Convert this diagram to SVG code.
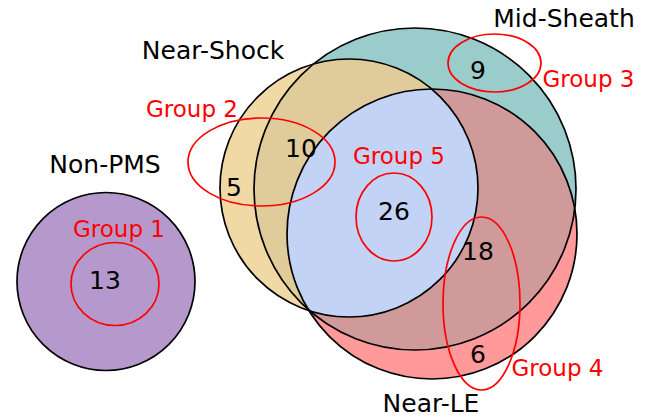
<svg xmlns="http://www.w3.org/2000/svg" width="659" height="420" viewBox="0 0 659 420">
<style>
text{font-family:"DejaVu Sans","Liberation Sans",sans-serif;text-anchor:middle}
.lab{font-size:25px;fill:#000}
.num{font-size:25px;fill:#000}
.grp{font-size:23px;fill:#ff0000}
.outline{fill:none;stroke:#000;stroke-width:1.7}
.ring{fill:none;stroke:#ff0000;stroke-width:1.7}
</style>
<defs>
<circle id="cNS" cx="349" cy="188" r="129"/>
<circle id="cMS" cx="415" cy="189" r="161"/>
<circle id="cLE" cx="432" cy="234" r="145"/>
<clipPath id="clipNS"><use href="#cNS"/></clipPath>
<clipPath id="clipMS"><use href="#cMS"/></clipPath>
</defs>
<rect width="659" height="420" fill="#fff"/>
<g id="venn-regions">
<use href="#cNS" fill="#f0d9a5"/>
<use href="#cMS" fill="#99cccb"/>
<use href="#cLE" fill="#ff999a"/>
<use href="#cMS" fill="#e0cc9b" clip-path="url(#clipNS)"/>
<use href="#cLE" fill="#d09a9a" clip-path="url(#clipMS)"/>
<use href="#cLE" fill="#c2d3f5" clip-path="url(#clipNS)"/>
</g>
<g id="near-shock">
<use href="#cNS" class="outline"/>
<text class="lab" x="213" y="59">Near-Shock</text>
</g>
<g id="mid-sheath">
<use href="#cMS" class="outline"/>
<text class="lab" x="564" y="27">Mid-Sheath</text>
</g>
<g id="near-le">
<use href="#cLE" class="outline"/>
<text class="lab" x="431" y="412">Near-LE</text>
</g>
<g id="non-pms">
<circle cx="106" cy="281.5" r="89" fill="#b599cc" stroke="#000" stroke-width="1.7"/>
<text class="lab" x="105" y="173">Non-PMS</text>
</g>
<g id="counts">
<text class="num" x="105" y="289">13</text>
<text class="num" x="234" y="196">5</text>
<text class="num" x="301" y="157">10</text>
<text class="num" x="478" y="79">9</text>
<text class="num" x="394" y="220">26</text>
<text class="num" x="478" y="260">18</text>
<text class="num" x="478" y="363">6</text>
</g>
<g id="group1">
<ellipse class="ring" cx="115" cy="284" rx="44" ry="41.5"/>
<text class="grp" x="119" y="237">Group 1</text>
</g>
<g id="group2">
<ellipse class="ring" cx="261.5" cy="162" rx="73.5" ry="44"/>
<text class="grp" x="192" y="117">Group 2</text>
</g>
<g id="group3">
<ellipse class="ring" cx="494.5" cy="63" rx="46.5" ry="29"/>
<text class="grp" x="588.5" y="87">Group 3</text>
</g>
<g id="group4">
<ellipse class="ring" cx="481.5" cy="303.5" rx="38.5" ry="86.5"/>
<text class="grp" x="557.5" y="376">Group 4</text>
</g>
<g id="group5">
<ellipse class="ring" cx="394" cy="217" rx="38" ry="44"/>
<text class="grp" x="399" y="164">Group 5</text>
</g>
<g id="connectors"></g>
</svg>
